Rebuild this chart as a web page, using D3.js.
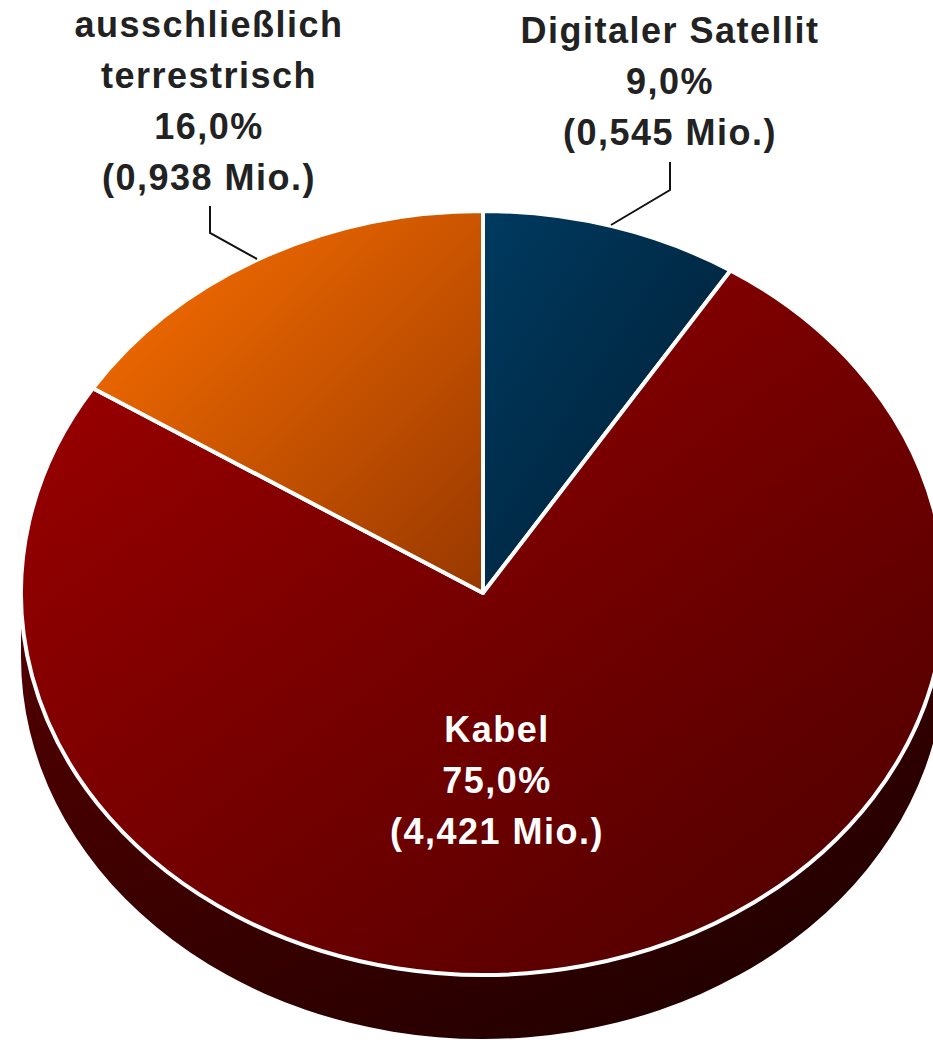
<!DOCTYPE html>
<html>
<head>
<meta charset="utf-8">
<script src="https://cdn.jsdelivr.net/npm/d3@7"></script>
<style>
body { margin: 0; background: #fff; }
.lbl { font-family: "Liberation Sans", Arial, sans-serif; font-weight: bold; font-size: 36px; letter-spacing: 1.5px; }
</style>
</head>
<body>
<div id="chart"></div>
<script>
// values
var categories = ["Digitaler Satellit", "Kabel", "ausschließlich terrestrisch"];
var shares = [9.0, 75.0, 16.0];
var millions = ["0,545", "4,421", "0,938"];

var width = 933;
var height = 1047;
var cx = 483, cy = 593;
var rx = 462, ry = 382;
var depth = 64;

// per slice look: top gradient, label place
var topColors = [["#003a60", "#001c30"], ["#a00000", "#4a0000"], ["#ff7200", "#983800"]];
var sideColors = [["#0a2a40", "#001020"], ["#540000", "#1a0000"], ["#9a4000", "#502000"]];
var labelPos = [
  { x: 670, y: 43, color: "#222", lines: function(i) { return [categories[i]]; } },
  { x: 497, y: 742, color: "#fff", lines: function(i) { return [categories[i]]; } },
  { x: 209, y: 37, color: "#222", lines: function(i) { return ["ausschließlich", "terrestrisch"]; } }
];
var leaders = [
  [[670, 162], [670, 190], [611, 225]],
  null,
  [[210, 206], [210, 233], [257, 259]]
];

var svg = d3.select("#chart").append("svg")
  .attr("width", width)
  .attr("height", height);

var defs = svg.append("defs");
function grad(id, c) {
  var g = defs.append("linearGradient").attr("id", id)
    .attr("x1", 0).attr("y1", 0).attr("x2", 1).attr("y2", 1);
  g.append("stop").attr("offset", "0%").attr("stop-color", c[0]);
  g.append("stop").attr("offset", "100%").attr("stop-color", c[1]);
}
topColors.forEach(function(c, i) { grad("top" + i, c); });
sideColors.forEach(function(c, i) { grad("side" + i, c); });

var pie = d3.pie().sort(null).value(function(d) { return d; });
var arcs = pie(shares);

function pt(a, dy) {
  return [cx + rx * Math.sin(a), cy - ry * Math.cos(a) + (dy || 0)];
}

function topPath(d) {
  var p0 = pt(d.startAngle), p1 = pt(d.endAngle);
  var large = d.endAngle - d.startAngle > Math.PI ? 1 : 0;
  return "M" + cx + "," + cy + "L" + p0 + "A" + rx + "," + ry + " 0 " + large + " 1 " + p1 + "Z";
}

function sidePath(d) {
  var s = Math.max(d.startAngle, Math.PI / 2);
  var e = Math.min(d.endAngle, 3 * Math.PI / 2);
  if (e <= s) return null;
  var a = pt(s), b = pt(e), b2 = pt(e, depth), a2 = pt(s, depth);
  return "M" + a + "A" + rx + "," + ry + " 0 0 1 " + b +
    "L" + b2 + "A" + rx + "," + ry + " 0 0 0 " + a2 + "Z";
}

// sides first
svg.append("g").selectAll("path")
  .data(arcs.filter(function(d) { return sidePath(d); }))
  .enter().append("path")
  .attr("d", sidePath)
  .attr("fill", function(d) { return "url(#side" + d.index + ")"; });

// top faces
svg.append("g").selectAll("path")
  .data(arcs)
  .enter().append("path")
  .attr("d", topPath)
  .attr("fill", function(d) { return "url(#top" + d.index + ")"; })
  .attr("stroke", "#fff")
  .attr("stroke-width", 4)
  .attr("stroke-linejoin", "round");

// leader lines
leaders.forEach(function(l) {
  if (!l) return;
  svg.append("path")
    .attr("d", d3.line()(l))
    .attr("fill", "none")
    .attr("stroke", "#111")
    .attr("stroke-width", 2);
});

// labels
arcs.forEach(function(d) {
  var lp = labelPos[d.index];
  var lines = lp.lines(d.index).concat([
    shares[d.index].toFixed(1).replace(".", ",") + "%",
    "(" + millions[d.index] + " Mio.)"
  ]);
  var t = svg.append("text")
    .attr("class", "lbl")
    .attr("text-anchor", "middle")
    .attr("fill", lp.color);
  lines.forEach(function(s, k) {
    t.append("tspan")
      .attr("x", lp.x)
      .attr("y", lp.y + k * 51)
      .text(s);
  });
});
</script>
</body>
</html>
